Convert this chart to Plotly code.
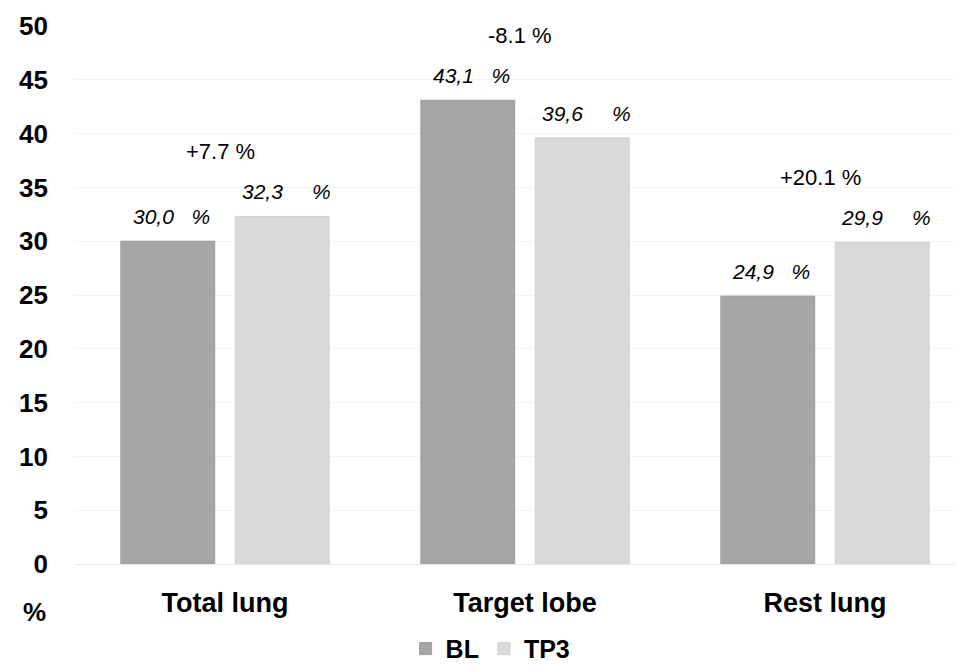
import plotly.graph_objects as go

categories = ["Total lung", "Target lobe", "Rest lung"]
bl_values = [30.0, 43.1, 24.9]
tp3_values = [32.3, 39.6, 29.9]
change_labels = ["+7.7 %", "-8.1 %", "+20.1 %"]
y_ticks = [0, 5, 10, 15, 20, 25, 30, 35, 40, 45, 50]

BL_COLOR = "#a6a6a6"
TP3_COLOR = "#d9d9d9"
FONT = "Liberation Sans, Arial, sans-serif"

fig = go.Figure()
fig.add_trace(go.Bar(name="BL", x=categories, y=bl_values, marker_color=BL_COLOR,
                     marker_line=dict(color="#9c9c9c", width=1)))
fig.add_trace(go.Bar(name="TP3", x=categories, y=tp3_values, marker_color=TP3_COLOR,
                     marker_line=dict(color="#cfcfcf", width=1)))

def fmt(v):
    return f"{v:.1f}".replace(".", ",")

annotations = []
for c, b, t, ch in zip(categories, bl_values, tp3_values, change_labels):
    annotations.append(dict(x=c, y=b, xref="x", yref="y", text=f"<i>{fmt(b)}   %</i>",
                            showarrow=False, xshift=-54, yshift=11, yanchor="bottom",
                            font=dict(family=FONT, size=21, color="#000")))
    annotations.append(dict(x=c, y=t, xref="x", yref="y", text=f"<i>{fmt(t)}     %</i>",
                            showarrow=False, xshift=61, yshift=11, yanchor="bottom",
                            font=dict(family=FONT, size=21, color="#000")))
    annotations.append(dict(x=c, y=max(b, t), xref="x", yref="y", text=ch,
                            showarrow=False, xshift=-5, yshift=65, yanchor="middle",
                            font=dict(family=FONT, size=22, color="#000")))

annotations.append(dict(x=-0.0304, y=-0.09, xref="paper", yref="paper", text="<b>%</b>",
                        showarrow=False, xanchor="right", yanchor="middle",
                        font=dict(family=FONT, size=26, color="#000")))

fig.update_layout(
    width=955, height=658,
    margin=dict(l=67, r=0, t=18, b=102, autoexpand=False),
    paper_bgcolor="white", plot_bgcolor="white",
    barmode="group", bargap=0.237, bargroupgap=0.18,
    font=dict(family=FONT, color="#000"),
    showlegend=True,
    legend=dict(orientation="h", x=0.468, xanchor="center", y=-0.115, yanchor="top",
                font=dict(family=FONT, size=25, color="#000", weight="bold"),
                itemwidth=30, traceorder="normal"),
    annotations=annotations,
)
fig.update_xaxes(range=[-0.5, 2.46], showgrid=False, showline=False, ticks="",
                 automargin=False,
                 tickfont=dict(family=FONT, size=27, color="#000", weight="bold"),
                 ticklabelstandoff=20)
fig.update_yaxes(range=[0, 50], tickvals=y_ticks, showgrid=True, gridcolor="#f4f4f4",
                 gridwidth=1, zeroline=True, zerolinecolor="#e8e8e8", zerolinewidth=1,
                 showline=False, ticks="", automargin=False,
                 tickfont=dict(family=FONT, size=26, color="#000", weight="bold"),
                 ticklabelstandoff=26)

fig.write_html("out.html")
